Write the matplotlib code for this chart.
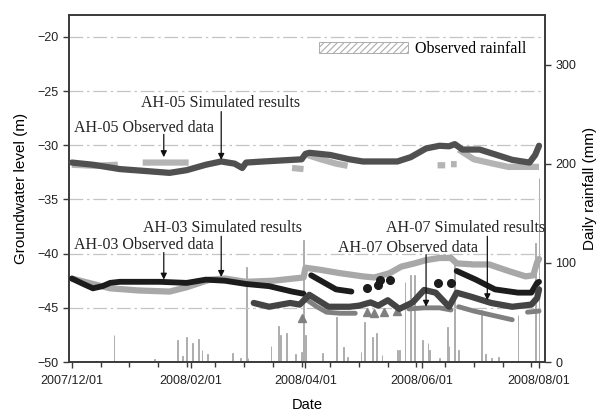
import numpy as np
import pandas as pd
import matplotlib
matplotlib.use("Agg")
import matplotlib.pyplot as plt
import matplotlib.ticker as mticker

nan = np.nan

# ---------------- data ----------------
ah05_sim_dates = ['2007-12-01', '2007-12-12', '2007-12-26', '2008-01-10', '2008-01-21', '2008-01-30',
                  '2008-02-09', '2008-02-17', '2008-02-24', '2008-02-28', '2008-03-01', '2008-03-10',
                  '2008-03-20', '2008-03-30', '2008-04-01', '2008-04-03', '2008-04-14', '2008-04-24',
                  '2008-05-01', '2008-05-19', '2008-05-26', '2008-06-03', '2008-06-10', '2008-06-15',
                  '2008-06-18', '2008-06-22', '2008-07-01', '2008-07-10', '2008-07-18', '2008-07-27',
                  '2008-07-30', '2008-08-01']
ah05_sim_vals = [-31.6, -31.8, -32.2, -32.4, -32.55, -32.3, -31.8, -31.5, -31.7, -32.1, -31.6, -31.5,
                 -31.4, -31.3, -30.8, -30.7, -30.9, -31.3, -31.5, -31.5, -31.1, -30.3, -30.05, -30.1,
                 -29.9, -30.4, -30.4, -30.9, -31.35, -31.6, -30.9, -30.05]

ah05_obs_dates = ['2007-12-01', '2007-12-13', '2007-12-25', '2007-12-26',
                  '2008-01-07', '2008-01-31', '2008-02-01',
                  '2008-03-25', '2008-03-31', '2008-04-01',
                  '2008-04-02', '2008-04-09', '2008-04-17', '2008-04-23', '2008-04-24',
                  '2008-06-09', '2008-06-13', '2008-06-14',
                  '2008-06-16', '2008-06-19', '2008-06-19',
                  '2008-06-20', '2008-06-28', '2008-07-08', '2008-07-16', '2008-08-01']
ah05_obs_vals = [-31.8, -31.9, -31.8, nan,
                 -31.6, -31.6, nan,
                 -32.1, -32.2, nan,
                 -30.9, -31.3, -31.7, -31.9, nan,
                 -31.85, -31.85, nan,
                 -31.75, -31.75, nan,
                 -30.4, -31.3, -31.7, -32.0, -32.0]

ah03_sim_dates = ['2007-12-01', '2007-12-12', '2007-12-21', '2008-01-05', '2008-01-21', '2008-01-30',
                  '2008-02-11', '2008-02-19', '2008-03-01', '2008-03-15', '2008-03-31', '2008-04-01',
                  '2008-04-09', '2008-04-19', '2008-05-01', '2008-05-07', '2008-05-15', '2008-05-21',
                  '2008-05-28', '2008-06-03', '2008-06-10', '2008-06-16', '2008-06-19', '2008-06-28',
                  '2008-07-06', '2008-07-16', '2008-07-25', '2008-07-29', '2008-07-31', '2008-08-01']
ah03_sim_vals = [-42.3, -42.8, -43.2, -43.4, -43.5, -43.1, -42.4, -42.3, -42.6, -42.5, -42.2, -41.3,
                 -41.5, -41.8, -42.1, -42.2, -41.8, -41.2, -40.9, -40.6, -40.4, -40.4, -40.9, -41.0,
                 -41.0, -41.6, -42.1, -42.0, -40.8, -40.5]

ah03_obs_dates = ['2007-12-01', '2007-12-07', '2007-12-12', '2007-12-17', '2007-12-21', '2007-12-26',
                  '2008-01-16', '2008-01-30', '2008-02-09', '2008-02-19', '2008-03-01', '2008-03-13',
                  '2008-03-25', '2008-03-31', '2008-04-02',
                  '2008-04-04', '2008-04-11', '2008-04-17', '2008-04-25', '2008-04-26',
                  '2008-06-19', '2008-06-29', '2008-07-09', '2008-07-21', '2008-07-28', '2008-07-31',
                  '2008-08-01']
ah03_obs_vals = [-42.3, -42.8, -43.2, -43.0, -42.7, -42.6,
                 -42.6, -42.7, -42.4, -42.5, -42.8, -43.0,
                 -43.5, -43.7, nan,
                 -42.0, -42.7, -43.3, -43.5, nan,
                 -41.6, -42.4, -43.3, -43.6, -43.6, -42.7,
                 -42.6]
ah03_obs_dot_dates = ['2008-05-03', '2008-05-09', '2008-05-10', '2008-05-15', '2008-06-09', '2008-06-16']
ah03_obs_dot_vals = [-43.2, -42.9, -42.4, -42.4, -42.7, -42.7]

ah07_sim_dates = ['2008-03-05', '2008-03-13', '2008-03-24', '2008-03-29', '2008-04-03', '2008-04-13',
                  '2008-04-24', '2008-04-29', '2008-05-05', '2008-05-09', '2008-05-14', '2008-05-20',
                  '2008-05-27', '2008-06-02', '2008-06-08', '2008-06-15', '2008-06-19', '2008-06-27',
                  '2008-07-07', '2008-07-18', '2008-07-28', '2008-07-31', '2008-08-01']
ah07_sim_vals = [-44.55, -44.9, -44.55, -44.7, -43.8, -44.9,
                 -44.9, -44.8, -44.5, -44.8, -44.3, -45.1,
                 -44.5, -43.35, -43.6, -44.9, -43.6, -44.0,
                 -44.55, -44.9, -44.7, -44.1, -43.3]

ah07_obs_dates = ['2008-04-02', '2008-04-07', '2008-04-12', '2008-04-19', '2008-04-27', '2008-04-28',
                  '2008-05-25', '2008-06-02', '2008-06-10', '2008-06-16', '2008-06-17',
                  '2008-06-20', '2008-06-28', '2008-07-08', '2008-07-18', '2008-07-19',
                  '2008-07-26', '2008-08-01']
ah07_obs_vals = [-44.3, -44.9, -45.4, -45.5, -45.5, nan,
                 -45.1, -45.0, -45.0, -45.2, nan,
                 -44.9, -45.3, -45.7, -46.1, nan,
                 -45.4, -45.3]
ah07_obs_tri_dates = ['2008-03-30', '2008-05-03', '2008-05-07', '2008-05-12', '2008-05-19']
ah07_obs_tri_vals = [-45.9, -45.4, -45.5, -45.4, -45.3]

rain_dates = ['2007-12-23', '2008-01-13', '2008-01-25', '2008-01-28', '2008-01-30', '2008-02-02',
              '2008-02-05', '2008-02-07', '2008-02-10', '2008-02-23', '2008-02-27', '2008-03-01',
              '2008-03-02', '2008-03-14', '2008-03-18', '2008-03-19', '2008-03-22', '2008-03-27',
              '2008-03-30', '2008-03-31', '2008-04-01', '2008-04-10', '2008-04-17', '2008-04-21',
              '2008-04-23', '2008-04-30', '2008-05-02', '2008-05-06', '2008-05-08', '2008-05-11',
              '2008-05-19', '2008-05-20', '2008-05-23', '2008-05-26', '2008-05-28', '2008-06-01',
              '2008-06-04', '2008-06-05', '2008-06-10', '2008-06-14', '2008-06-15', '2008-06-18',
              '2008-06-20', '2008-07-02', '2008-07-04', '2008-07-07', '2008-07-11', '2008-07-21',
              '2008-07-30', '2008-08-01']
rain_mm = [27, 3, 22, 6, 25, 19,
           23, 12, 8, 9, 4, 96,
           4, 16, 36, 27, 29, 8,
           10, 123, 27, 9, 45, 15,
           5, 10, 40, 25, 29, 7,
           12, 12, 81, 88, 88, 22,
           19, 12, 4, 35, 16, 103,
           12, 53, 8, 4, 5, 47,
           120, 186]

x_tick_dates = ['2007-12-01', '2008-02-01', '2008-04-01', '2008-06-01', '2008-08-01']
x_tick_labels = ['2007/12/01', '2008/02/01', '2008/04/01', '2008/06/01', '2008/08/01']
left_ticks = [-50, -45, -40, -35, -30, -25, -20]
right_ticks = [0, 100, 200, 300]

# annotation data: (label, arrow date, arrow tip level, arrow tail level, text date, text level)
annotations = [
    ('AH-05 Simulated results', '2008-02-17', -31.35, -26.9, '2008-01-06', -26.1),
    ('AH-05 Observed data',     '2008-01-18', -31.1, -29.0, '2007-12-02', -28.4),
    ('AH-03 Simulated results', '2008-02-17', -42.15, -38.4, '2008-01-07', -37.6),
    ('AH-03 Observed data',     '2008-01-18', -42.4, -39.9, '2007-12-02', -39.2),
    ('AH-07 Simulated results', '2008-07-05', -44.3, -38.4, '2008-05-13', -37.6),
    ('AH-07 Observed data',     '2008-06-03', -44.9, -40.1, '2008-04-18', -39.5),
]

# ---------------- figure ----------------
sans = ['Liberation Sans', 'DejaVu Sans']
serif = ['Liberation Serif', 'DejaVu Serif']
plt.rcParams['font.family'] = sans
plt.rcParams['hatch.color'] = '#a0a0a0'
plt.rcParams['hatch.linewidth'] = 0.8

fig = plt.figure(figsize=(6.08, 4.2), dpi=100)
ax = fig.add_axes([0.1135, 0.138, 0.7825, 0.826])
ax2 = ax.twinx()

td = pd.to_datetime

# gridlines
for v in left_ticks[1:]:
    ax.axhline(v, color='#c4c4c4', lw=0.9, dashes=(11, 3, 2, 3), zorder=0)

ax.plot(td(ah05_obs_dates), ah05_obs_vals, color='#b4b4b4', lw=4.5, solid_capstyle='butt', zorder=2)
ax.plot(td(ah05_sim_dates), ah05_sim_vals, color='#505050', lw=4.5, solid_capstyle='round', zorder=3)

ax.plot(td(ah03_obs_dates), ah03_obs_vals, color='#1c1c1c', lw=4.2, solid_capstyle='round', zorder=3)
ax.plot(td(ah03_obs_dot_dates), ah03_obs_dot_vals, 'o', color='#1c1c1c', ms=5.5, zorder=3)
ax.plot(td(ah03_sim_dates), ah03_sim_vals, color='#a8a8a8', lw=4.5, solid_capstyle='round', zorder=2)

ax.plot(td(ah07_obs_dates), ah07_obs_vals, color='#808080', lw=3.5, solid_capstyle='round', zorder=2)
ax.plot(td(ah07_obs_tri_dates), ah07_obs_tri_vals, '^', color='#808080', ms=6, zorder=2)
ax.plot(td(ah07_sim_dates), ah07_sim_vals, color='#444444', lw=4.5, solid_capstyle='round', zorder=3)

for label, adate, tip, tail, tdate, tlev in annotations:
    ax.annotate('', xy=(td(adate), tip), xytext=(td(adate), tail),
                arrowprops=dict(arrowstyle='-|>', color='#111111', lw=0.9, mutation_scale=9,
                                shrinkA=0, shrinkB=0), zorder=6)
    ax.text(td(tdate), tlev, label, family=serif, fontsize=11.5, color='#222222',
            ha='left', va='center', zorder=6)

# rainfall bars
ax2.bar(td(rain_dates), rain_mm, width=0.45, facecolor='white', edgecolor='#adadad',
        hatch='/////', linewidth=0.7, label='Observed rainfall', zorder=1)
ax2.set_ylim(0, 350)
ax2.set_yticks(right_ticks)
ax2.set_ylabel('Daily rainfall (mm)', fontsize=11, labelpad=5)

ax.set_ylim(-50, -18)
ax.set_yticks(left_ticks)
ax.set_ylabel('Groundwater level (m)', fontsize=11, labelpad=7)
ax.set_xlim(td('2007-11-29 12:00'), td('2008-08-04'))
ax.set_xticks(td(x_tick_dates))
ax.set_xticklabels(x_tick_labels)
ax.xaxis.set_minor_locator(mticker.FixedLocator(
    matplotlib.dates.date2num(pd.date_range('2007-12-01', '2008-08-01', freq='15D'))))
ax.set_xlabel('Date', fontsize=10.5, labelpad=8)

for a in (ax, ax2):
    for s in a.spines.values():
        s.set_color('#3a3a3a')
        s.set_linewidth(1.2)
    a.tick_params(axis='both', which='both', direction='out', color='#3a3a3a',
                  labelsize=9, labelcolor='#222222', width=1.0)
    a.tick_params(which='major', length=4)
    a.tick_params(which='minor', length=3.5)
ax.tick_params(axis='x', pad=5)

ax.set_zorder(ax2.get_zorder() + 1)
ax.patch.set_visible(False)

ax2.legend(loc='upper left', bbox_to_anchor=(0.525, 0.925), frameon=False,
           handlelength=5.6, handleheight=0.75, handletextpad=0.4, borderaxespad=0, borderpad=0,
           prop={'family': serif, 'size': 11.5})

fig.savefig('out.png', dpi=100, facecolor='white')
